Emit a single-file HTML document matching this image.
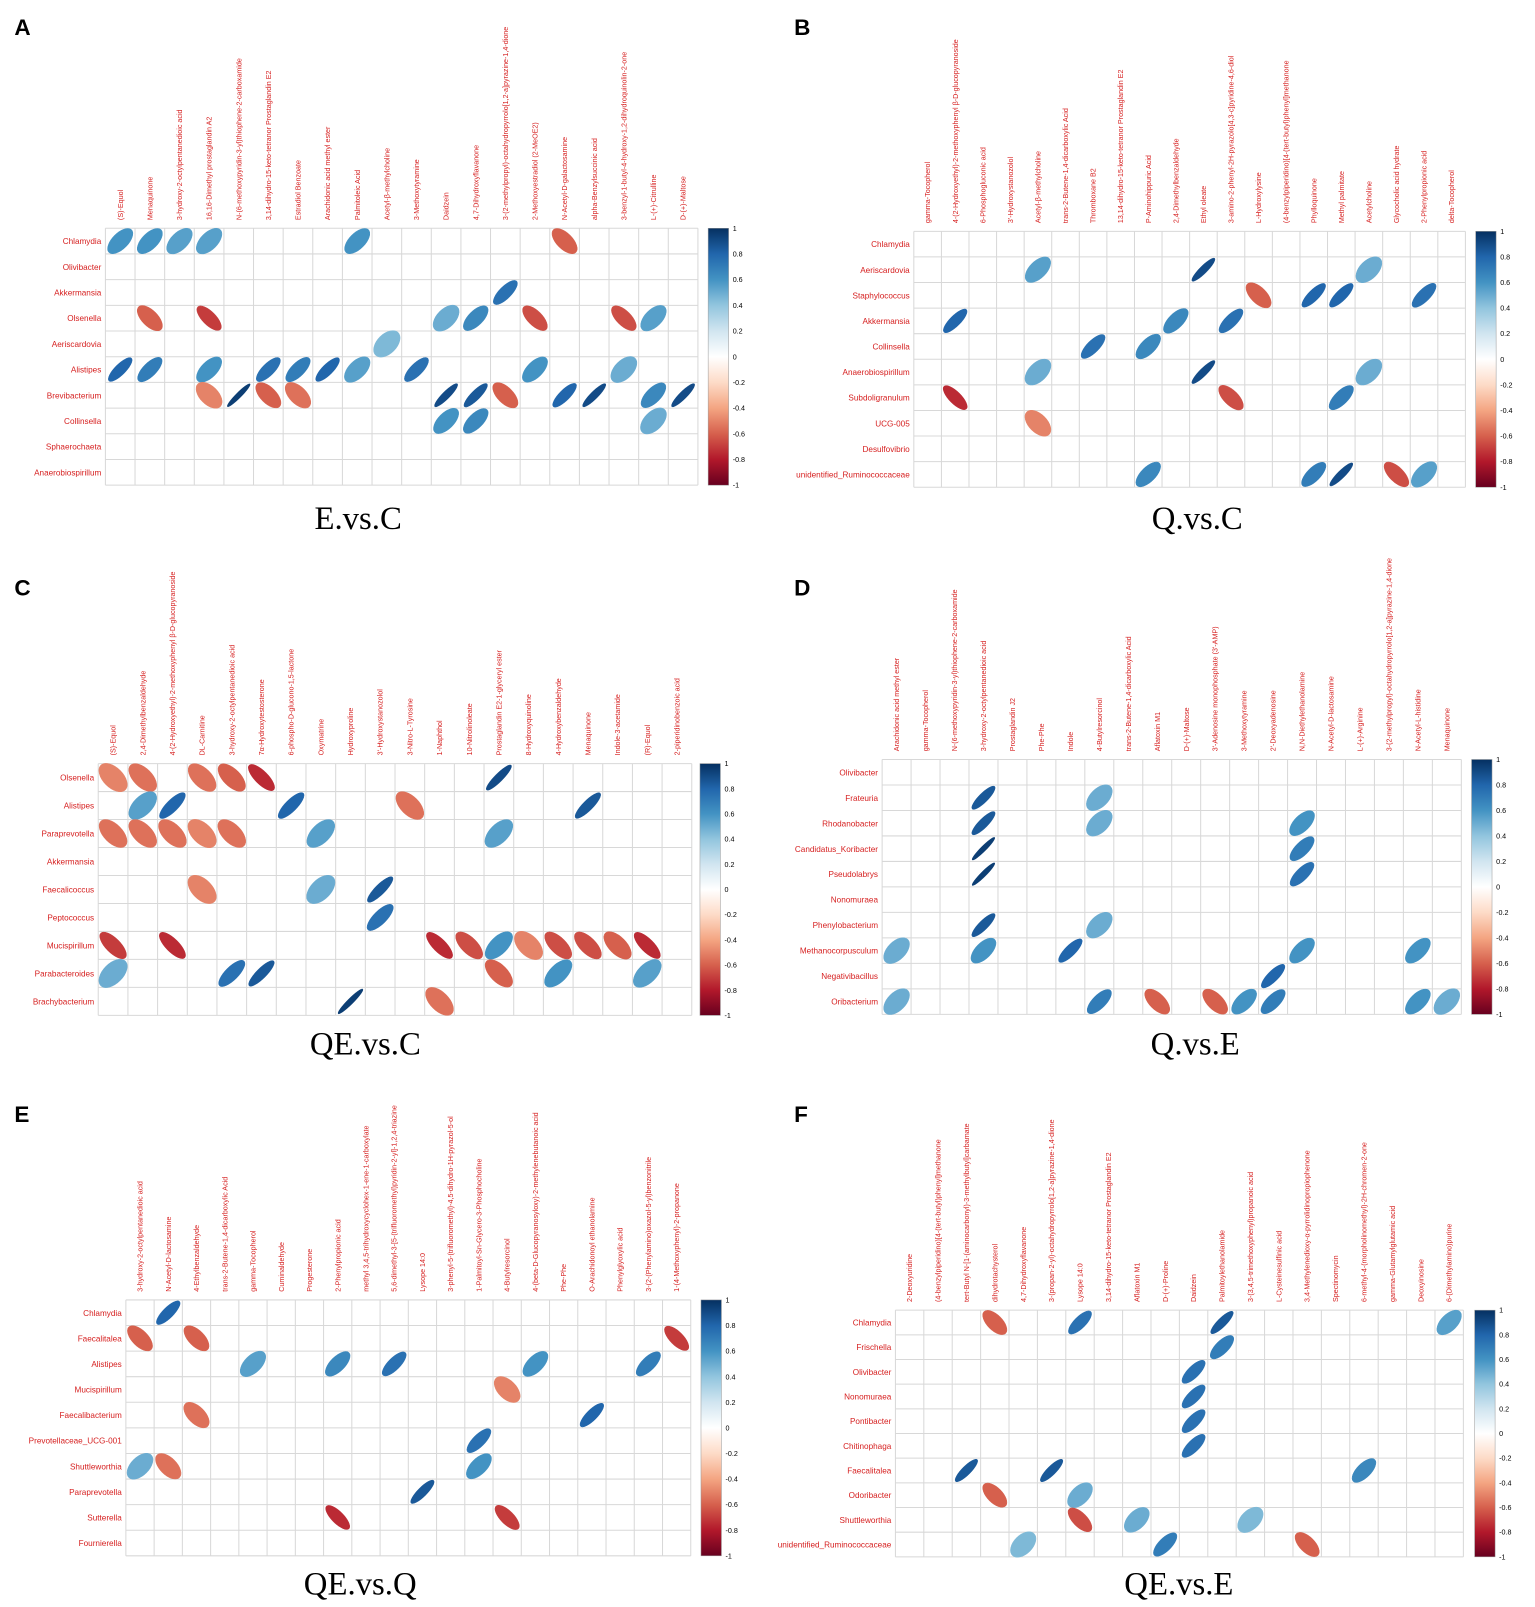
<!DOCTYPE html>
<html><head><meta charset="utf-8">
<style>
html,body{margin:0;padding:0;background:#fff;}
svg{display:block;}
</style></head>
<body>
<svg id="fig" width="1535" height="1607" viewBox="0 0 1500 1570" preserveAspectRatio="none" xmlns="http://www.w3.org/2000/svg">
<defs>
<linearGradient id="rdbu" x1="0" y1="1" x2="0" y2="0">
<stop offset="0" stop-color="#67001F"/><stop offset="0.1" stop-color="#B2182B"/><stop offset="0.2" stop-color="#D6604D"/><stop offset="0.3" stop-color="#F4A582"/><stop offset="0.4" stop-color="#FDDBC7"/><stop offset="0.5" stop-color="#FFFFFF"/><stop offset="0.6" stop-color="#D1E5F0"/><stop offset="0.7" stop-color="#92C5DE"/><stop offset="0.8" stop-color="#4393C3"/><stop offset="0.9" stop-color="#2166AC"/><stop offset="1" stop-color="#053061"/>
</linearGradient>
</defs>
</svg>
<script>
// ---------- DATA ----------
const colsA = ["(S)-Equol","Menaquinone","3-hydroxy-2-octylpentanedioic acid","16,16-Dimethyl prostaglandin A2","N-(6-methoxypyridin-3-yl)thiophene-2-carboxamide","3,14-dihydro-15-keto-tetranor Prostaglandin E2","Estradiol Benzoate","Arachidonic acid methyl ester","Palmitoleic Acid","Acetyl-β-methylcholine","3-Methoxytyramine","Daidzein","4,7-Dihydroxyflavanone","3-(2-methylpropyl)-octahydropyrrolo[1,2-a]pyrazine-1,4-dione","2-Methoxyestradiol (2-MeOE2)","N-Acetyl-D-galactosamine","alpha-Benzylsuccinic acid","3-benzyl-1-butyl-4-hydroxy-1,2-dihydroquinolin-2-one","L-(+)-Citrulline","D-(+)-Maltose"];
const rowsA = ["Chlamydia","Olivibacter","Akkermansia","Olsenella","Aeriscardovia","Alistipes","Brevibacterium","Collinsella","Sphaerochaeta","Anaerobiospirillum"];
const cellsA = [[0,0,0.6],[0,1,0.6],[0,2,0.55],[0,3,0.55],[0,8,0.6],[0,15,-0.6],[2,13,0.75],
[3,1,-0.6],[3,3,-0.7],[3,11,0.5],[3,12,0.65],[3,14,-0.65],[3,17,-0.65],[3,18,0.55],[4,9,0.45],
[5,0,0.8],[5,1,0.7],[5,3,0.6],[5,5,0.75],[5,6,0.7],[5,7,0.8],[5,8,0.55],[5,10,0.75],[5,14,0.6],[5,17,0.5],
[6,3,-0.5],[6,4,0.95],[6,5,-0.6],[6,6,-0.55],[6,11,0.9],[6,12,0.85],[6,13,-0.6],[6,15,0.8],[6,16,0.9],[6,18,0.65],[6,19,0.9],
[7,11,0.6],[7,12,0.65],[7,18,0.5]];

const colsB = ["gamma-Tocopherol","4-(2-Hydroxyethyl)-2-methoxyphenyl β-D-glucopyranoside","6-Phosphogluconic acid","3'-Hydroxystanozolol","Acetyl-β-methylcholine","trans-2-Butene-1,4-dicarboxylic Acid","Thromboxane B2","13,14-dihydro-15-keto-tetranor Prostaglandin E2","P-Aminohippuric Acid","2,4-Dimethylbenzaldehyde","Ethyl oleate","3-amino-2-phenyl-2H-pyrazolo[4,3-c]pyridine-4,6-diol","L-Hydroxylysine","(4-benzylpiperidino)[4-(tert-butyl)phenyl]methanone","Phylloquinone","Methyl palmitate","Acetylcholine","Glycocholic acid hydrate","2-Phenylpropionic acid","delta-Tocopherol"];
const rowsB = ["Chlamydia","Aeriscardovia","Staphylococcus","Akkermansia","Collinsella","Anaerobiospirillum","Subdoligranulum","UCG-005","Desulfovibrio","unidentified_Ruminococcaceae"];
const cellsB = [[1,4,0.55],[1,10,0.9],[1,16,0.5],[2,12,-0.6],[2,14,0.8],[2,15,0.8],[2,18,0.75],
[3,1,0.8],[3,9,0.65],[3,11,0.75],[4,6,0.75],[4,8,0.65],[5,4,0.5],[5,10,0.9],[5,16,0.5],
[6,1,-0.75],[6,11,-0.65],[6,15,0.7],[7,4,-0.5],[9,8,0.65],[9,14,0.7],[9,15,0.9],[9,17,-0.65],[9,18,0.55]];

const colsC = ["(S)-Equol","2,4-Dimethylbenzaldehyde","4-(2-Hydroxyethyl)-2-methoxyphenyl β-D-glucopyranoside","DL-Carnitine","3-hydroxy-2-octylpentanedioic acid","7α-Hydroxytestosterone","6-phospho-D-glucono-1,5-lactone","Oxymatrine","Hydroxyproline","3'-Hydroxystanozolol","3-Nitro-L-Tyrosine","1-Naphthol","10-Nitrolinoleate","Prostaglandin E2-1-glyceryl ester","8-Hydroxyquinoline","4-Hydroxybenzaldehyde","Menaquinone","Indole-3-acetamide","(R)-Equol","2-piperidinobenzoic acid"];
const rowsC = ["Olsenella","Alistipes","Paraprevotella","Akkermansia","Faecalicoccus","Peptococcus","Mucispirillum","Parabacteroides","Brachybacterium"];
const cellsC = [[0,0,-0.5],[0,1,-0.55],[0,3,-0.55],[0,4,-0.6],[0,5,-0.75],[0,13,0.9],
[1,1,0.55],[1,2,0.8],[1,6,0.8],[1,10,-0.55],[1,16,0.85],
[2,0,-0.55],[2,1,-0.55],[2,2,-0.55],[2,3,-0.5],[2,4,-0.55],[2,7,0.55],[2,13,0.55],
[4,3,-0.5],[4,7,0.5],[4,9,0.85],[5,9,0.75],
[6,0,-0.7],[6,2,-0.75],[6,11,-0.75],[6,12,-0.65],[6,13,0.6],[6,14,-0.5],[6,15,-0.65],[6,16,-0.65],[6,17,-0.6],[6,18,-0.75],
[7,0,0.5],[7,4,0.75],[7,5,0.85],[7,13,-0.6],[7,15,0.6],[7,18,0.55],[8,8,0.95],[8,11,-0.55]];

const colsD = ["Arachidonic acid methyl ester","gamma-Tocopherol","N-(6-methoxypyridin-3-yl)thiophene-2-carboxamide","3-hydroxy-2-octylpentanedioic acid","Prostaglandin J2","Phe-Phe","Indole","4-Butylresorcinol","trans-2-Butene-1,4-dicarboxylic Acid","Aflatoxin M1","D-(+)-Maltose","3'-Adenosine monophosphate (3'-AMP)","3-Methoxytyramine","2'-Deoxyadenosine","N,N-Diethylethanolamine","N-Acetyl-D-lactosamine","L-(+)-Arginine","3-(2-methylpropyl)-octahydropyrrolo[1,2-a]pyrazine-1,4-dione","N-Acetyl-L-histidine","Menaquinone"];
const rowsD = ["Olivibacter","Frateuria","Rhodanobacter","Candidatus_Koribacter","Pseudolabrys","Nonomuraea","Phenylobacterium","Methanocorpusculum","Negativibacillus","Oribacterium"];
const cellsD = [[1,3,0.85],[1,7,0.5],[2,3,0.85],[2,7,0.5],[2,14,0.6],[3,3,0.95],[3,14,0.7],[4,3,0.95],[4,14,0.75],
[6,3,0.85],[6,7,0.5],[7,0,0.5],[7,3,0.6],[7,6,0.8],[7,14,0.6],[7,18,0.6],[8,13,0.8],
[9,0,0.5],[9,7,0.7],[9,9,-0.6],[9,11,-0.6],[9,12,0.6],[9,13,0.7],[9,18,0.6],[9,19,0.5]];

const colsE = ["3-hydroxy-2-octylpentanedioic acid","N-Acetyl-D-lactosamine","4-Ethylbenzaldehyde","trans-2-Butene-1,4-dicarboxylic Acid","gamma-Tocopherol","Cuminaldehyde","Progesterone","2-Phenylpropionic acid","methyl 3,4,5-trihydroxycyclohex-1-ene-1-carboxylate","5,6-dimethyl-3-[5-(trifluoromethyl)pyridin-2-yl]-1,2,4-triazine","Lysope 14:0","3-phenyl-5-(trifluoromethyl)-4,5-dihydro-1H-pyrazol-5-ol","1-Palmitoyl-Sn-Glycero-3-Phosphocholine","4-Butylresorcinol","4-(beta-D-Glucopyranosyloxy)-2-methylenebutanoic acid","Phe-Phe","O-Arachidonoyl ethanolamine","Phenylglyoxylic acid","3-(2-(Phenylamino)oxazol-5-yl)benzonitrile","1-(4-Methoxyphenyl)-2-propanone"];
const rowsE = ["Chlamydia","Faecalitalea","Alistipes","Mucispirillum","Faecalibacterium","Prevotellaceae_UCG-001","Shuttleworthia","Paraprevotella","Sutterella","Fournierella"];
const cellsE = [[0,1,0.8],[1,0,-0.6],[1,2,-0.6],[1,19,-0.7],[2,4,0.55],[2,7,0.65],[2,9,0.75],[2,14,0.6],[2,18,0.7],
[3,13,-0.5],[4,2,-0.55],[4,16,0.8],[5,12,0.75],[6,0,0.5],[6,1,-0.55],[6,12,0.6],[7,10,0.85],[8,7,-0.75],[8,13,-0.7]];

const colsF = ["2-Deoxyuridine","(4-benzylpiperidino)[4-(tert-butyl)phenyl]methanone","tert-Butyl N-[1-(aminocarbonyl)-3-methylbutyl]carbamate","dihydrotachysterol","4,7-Dihydroxyflavanone","3-(propan-2-yl)-octahydropyrrolo[1,2-a]pyrazine-1,4-dione","Lysope 14:0","3,14-dihydro-15-keto-tetranor Prostaglandin E2","Aflatoxin M1","D-(+)-Proline","Daidzein","Palmitoylethanolamide","3-(3,4,5-trimethoxyphenyl)propanoic acid","L-Cysteinesulfinic acid","3,4-Methylenedioxy-α-pyrrolidinopropiophenone","Spectinomycin","6-methyl-4-(morpholinomethyl)-2H-chromen-2-one","gamma-Glutamylglutamic acid","Deoxyinosine","6-(Dimethylamino)purine"];
const rowsF = ["Chlamydia","Frischella","Olivibacter","Nonomuraea","Pontibacter","Chitinophaga","Faecalitalea","Odoribacter","Shuttleworthia","unidentified_Ruminococcaceae"];
const cellsF = [[0,3,-0.6],[0,6,0.75],[0,11,0.85],[0,19,0.55],[1,11,0.7],[2,10,0.75],[3,10,0.75],[4,10,0.75],[5,10,0.75],
[6,2,0.85],[6,5,0.85],[6,16,0.65],[7,3,-0.6],[7,6,0.5],[8,6,-0.65],[8,8,0.5],[8,12,0.45],[9,4,0.45],[9,9,0.7],[9,14,-0.6]];

const cbTicks = [1,0.8,0.6,0.4,0.2,0,-0.2,-0.4,-0.6,-0.8,-1];

// ---------- RENDER ----------
const NS="http://www.w3.org/2000/svg";
const svg=document.getElementById('fig');
function mk(tag,attrs,parent){const e=document.createElementNS(NS,tag);for(const k in attrs)e.setAttribute(k,attrs[k]);(parent||svg).appendChild(e);return e;}
const stops=[[-1,[103,0,31]],[-0.8,[178,24,43]],[-0.6,[214,96,77]],[-0.4,[244,165,130]],[-0.2,[253,219,199]],[0,[255,255,255]],[0.2,[209,229,240]],[0.4,[146,197,222]],[0.6,[67,147,195]],[0.8,[33,102,172]],[1,[5,48,97]]];
function color(v){for(let i=0;i<stops.length-1;i++){const a=stops[i],b=stops[i+1];if(v>=a[0]&&v<=b[0]){const t=(v-a[0])/(b[0]-a[0]);const c=a[1].map((x,j)=>Math.round(x+(b[1][j]-x)*t));return `rgb(${c.join(',')})`;}}return '#fff';}

function panel(p){
  const g=mk('g',{});
  
  
  const nc=p.cols.length,nr=p.rows.length;
  const cw=(p.x1-p.x0)/nc,ch=(p.y1-p.y0)/nr;
  const xs=i=>p.x0+cw*(i+0.5), ys=j=>p.y0+ch*(j+0.5);
  const L=mk('text',{x:p.lx,y:p.ly,'font-family':'Liberation Sans, sans-serif','font-size':22,'font-weight':'bold',fill:'#000'},g);
  L.textContent=p.id;
  
  
  const grid=mk('g',{stroke:'#d8d8d8','stroke-width':1,fill:'none'},g);
  
  
  for(let i=0;i<=nc;i++)mk('line',{x1:p.x0+cw*i,x2:p.x0+cw*i,y1:p.y0,y2:p.y1},grid);
  for(let j=0;j<=nr;j++)mk('line',{x1:p.x0,x2:p.x1,y1:p.y0+ch*j,y2:p.y0+ch*j},grid);
  p.cols.forEach((c,i)=>{
    const t=mk('text',{x:0,y:0,transform:`translate(${xs(i)+2.5},${p.y0-8}) rotate(-90)`,'font-family':'Liberation Sans, sans-serif','font-size':7,fill:'#d62020'},g);
    t.textContent=c;
    
    
  });
  p.rows.forEach((r,j)=>{
    const t=mk('text',{x:p.x0-4,y:ys(j)+3,'text-anchor':'end','font-family':'Liberation Sans, sans-serif','font-size':8,fill:'#d62020'},g);
    t.textContent=r;
    
    
  });
  const m=Math.min(cw,ch);
  p.cells.forEach(c=>{
    const v=c[2],a=Math.abs(v);
    const rx=m*0.62, ry=rx*Math.sqrt((1-a)/(1+a));
    const e=mk('ellipse',{cx:0,cy:0,rx:rx,ry:Math.max(ry,1.2),fill:color(v),stroke:color(v),'stroke-width':0.5,transform:`translate(${xs(c[1])},${ys(c[0])}) rotate(${v>0?-45:45})`},g);
    
    
  });
  const cb=mk('rect',{x:p.cbx,y:p.y0,width:20,height:p.y1-p.y0,fill:'url(#rdbu)',stroke:'#999','stroke-width':0.5},g);
  
  
  cbTicks.forEach(v=>{
    const y=p.y0+(1-v)/2*(p.y1-p.y0);
    const t=mk('text',{x:p.cbx+24,y:y+2.5,'font-family':'Liberation Sans, sans-serif','font-size':7,fill:'#000'},g);
    t.textContent=String(v);
    
    
  });
  const T=mk('text',{x:p.tx,y:p.ty,'text-anchor':'middle','font-family':'Liberation Serif, serif','font-size':32,fill:'#000'},g);
  T.textContent=p.title;
  
  
}

panel({id:'A',cols:colsA,rows:rowsA,cells:cellsA,x0:103,x1:682,y0:223,y1:474,cbx:692,lx:14,ly:34,title:'E.vs.C',tx:350,ty:517});
panel({id:'B',cols:colsB,rows:rowsB,cells:cellsB,x0:893,x1:1432,y0:226,y1:476,cbx:1442,lx:776,ly:34,title:'Q.vs.C',tx:1170,ty:517});
panel({id:'C',cols:colsC,rows:rowsC,cells:cellsC,x0:96,x1:676,y0:746,y1:992,cbx:684,lx:14,ly:582,title:'QE.vs.C',tx:357,ty:1030});
panel({id:'D',cols:colsD,rows:rowsD,cells:cellsD,x0:862,x1:1428,y0:742,y1:991,cbx:1438,lx:776,ly:582,title:'Q.vs.E',tx:1168,ty:1030});
panel({id:'E',cols:colsE,rows:rowsE,cells:cellsE,x0:123,x1:675,y0:1270,y1:1520,cbx:685,lx:14,ly:1096,title:'QE.vs.Q',tx:352,ty:1558});
panel({id:'F',cols:colsF,rows:rowsF,cells:cellsF,x0:875,x1:1430,y0:1280,y1:1521,cbx:1441,lx:776,ly:1096,title:'QE.vs.E',tx:1152,ty:1558});
</script>
</body></html>
